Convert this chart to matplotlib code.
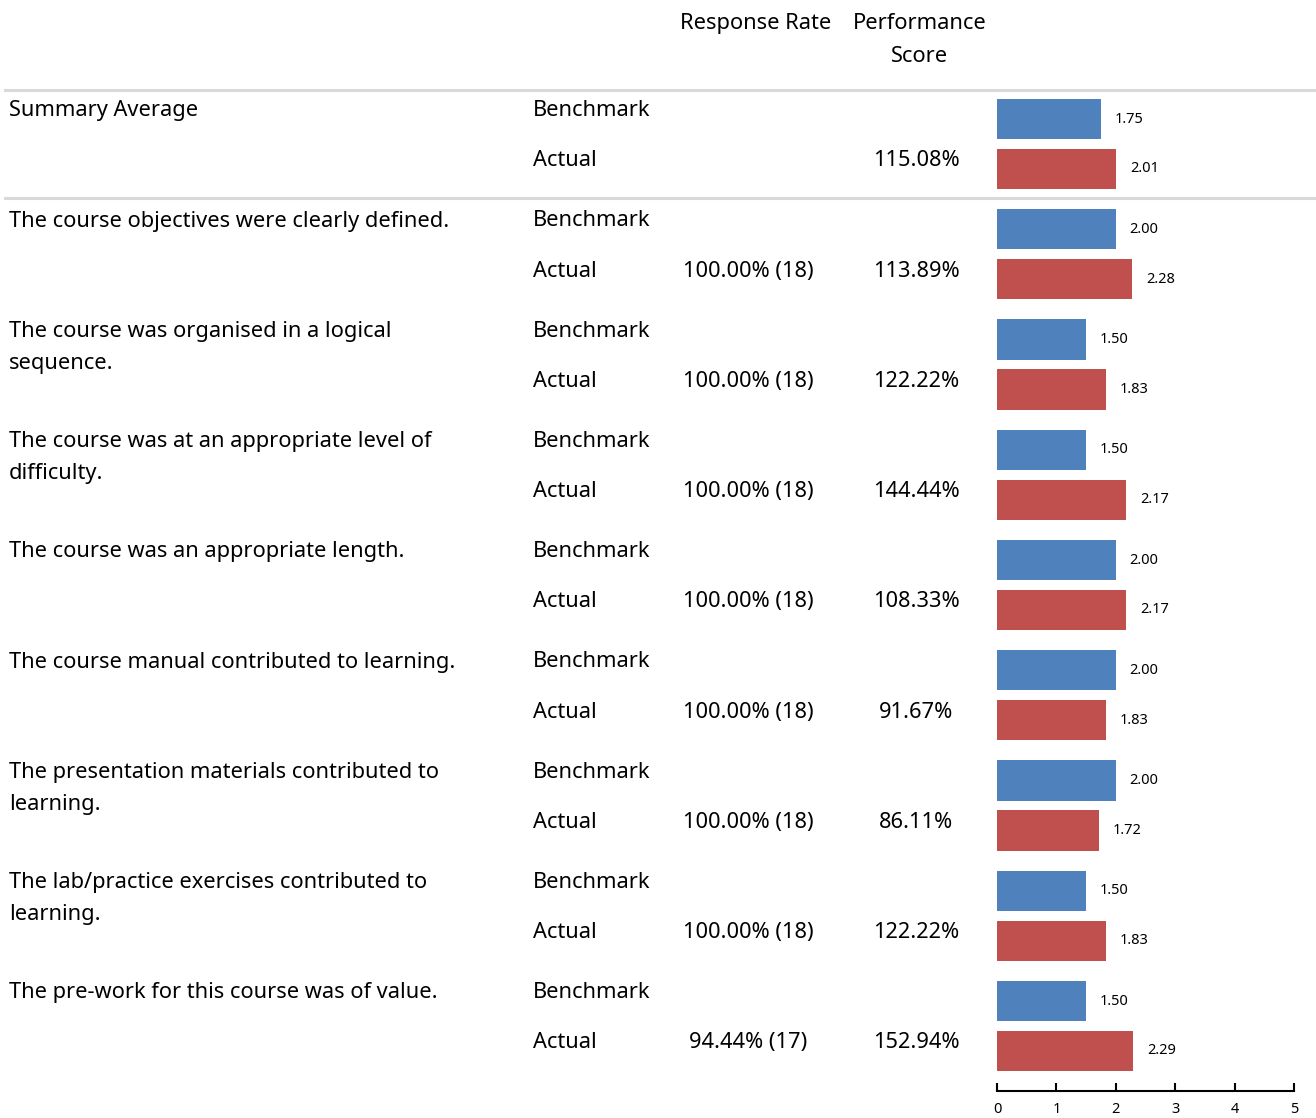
import matplotlib
matplotlib.use("Agg")
import matplotlib.pyplot as plt
from matplotlib.transforms import blended_transform_factory
from matplotlib.lines import Line2D

plt.rcParams['font.family'] = ['Noto Sans', 'DejaVu Sans']

# Data
questions = [
    "Summary Average",
    "The course objectives were clearly defined.",
    "The course was organised in a logical\nsequence.",
    "The course was at an appropriate level of\ndifficulty.",
    "The course was an appropriate length.",
    "The course manual contributed to learning.",
    "The presentation materials contributed to\nlearning.",
    "The lab/practice exercises contributed to\nlearning.",
    "The pre-work for this course was of value.",
]
benchmark = [1.75, 2.00, 1.50, 1.50, 2.00, 2.00, 2.00, 1.50, 1.50]
actual = [2.01, 2.28, 1.83, 2.17, 2.17, 1.83, 1.72, 1.83, 2.29]
response_rate = ["", "100.00% (18)", "100.00% (18)", "100.00% (18)", "100.00% (18)",
                 "100.00% (18)", "100.00% (18)", "100.00% (18)", "94.44% (17)"]
performance = ["115.08%", "113.89%", "122.22%", "144.44%", "108.33%",
               "91.67%", "86.11%", "122.22%", "152.94%"]

blue = "#4F81BD"
red = "#C0504D"
W, H = 1316, 1118

fig = plt.figure(figsize=(W / 100, H / 100), dpi=100)

# bar panel, placed in pixel coordinates
x0, x1 = 997, 1294
y_top, y_bot = 92, 1091
ax = fig.add_axes([x0 / W, 1 - y_bot / H, (x1 - x0) / W, (y_bot - y_top) / H])

n = len(questions)
pos_b = [i + 0.245 for i in range(n)]
pos_a = [i + 0.698 for i in range(n)]
hb = ax.barh(pos_b, benchmark, height=0.365, color=blue)
ha = ax.barh(pos_a, actual, height=0.365, color=red)
ax.bar_label(hb, labels=[f"{v:.2f}" for v in benchmark], padding=10, fontsize=10.5)
ax.bar_label(ha, labels=[f"{v:.2f}" for v in actual], padding=10, fontsize=10.5)

ax.set_xlim(0, 5)
ax.set_ylim((y_bot - y_top) / 110.25, 0)
for s in ['top', 'right', 'left']:
    ax.spines[s].set_visible(False)
ax.spines['bottom'].set_linewidth(1.5)
ax.set_yticks([])
ax.set_xticks(range(6))
ax.tick_params(axis='x', direction='in', length=6, width=1.5, labelsize=10.5, pad=8)

# text columns
tr = blended_transform_factory(fig.transFigure, ax.transData)
fs = 15.7
for i in range(n):
    fig.text(9 / W, i + 0.075, questions[i], transform=tr, ha='left', va='top',
             fontsize=fs, linespacing=1.7)
    fig.text(533 / W, i + 0.17, "Benchmark", transform=tr, ha='left', va='center', fontsize=fs)
    fig.text(533 / W, i + 0.625, "Actual", transform=tr, ha='left', va='center', fontsize=fs)
    fig.text(748 / W, i + 0.625, response_rate[i], transform=tr, ha='center', va='center', fontsize=fs)
    fig.text(916 / W, i + 0.625, performance[i], transform=tr, ha='center', va='center', fontsize=fs)

# header
fig.text(756 / W, 1 - 24 / H, "Response Rate", ha='center', va='center', fontsize=fs)
fig.text(920 / W, 1 - 40 / H, "Performance\nScore", ha='center', va='center', fontsize=fs,
         linespacing=1.7)

# separator lines
for yp in [90, 198]:
    fig.add_artist(Line2D([5 / W, 1], [1 - yp / H, 1 - yp / H], color="#d9d9d9", lw=2.2))

fig.savefig("out.png", dpi=100)
